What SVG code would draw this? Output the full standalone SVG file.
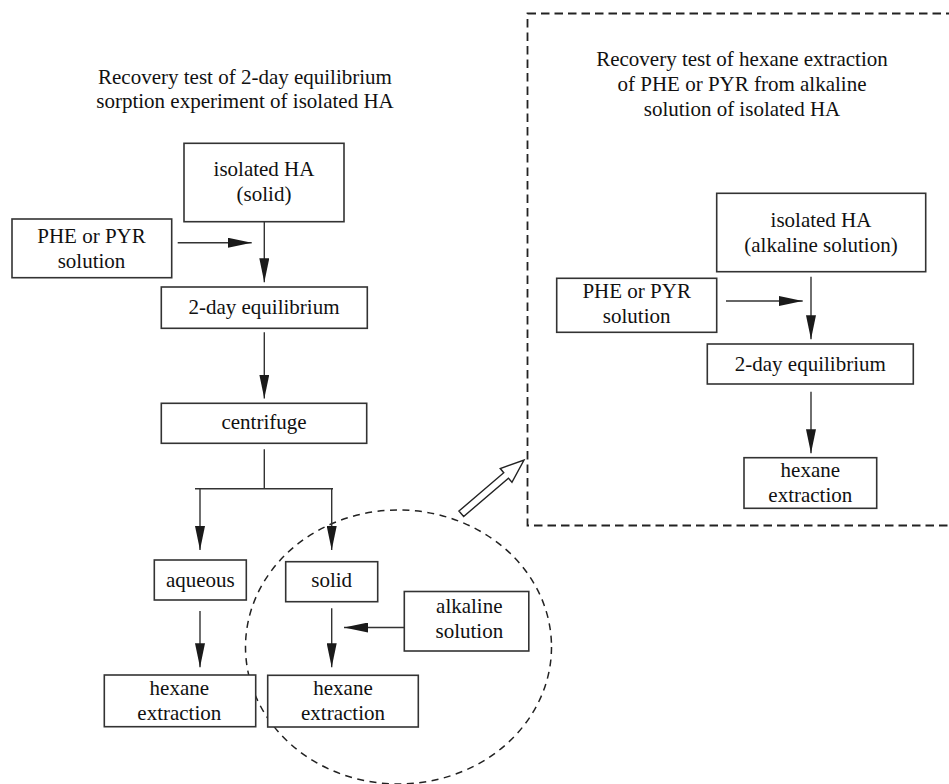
<svg xmlns="http://www.w3.org/2000/svg" width="949" height="784" viewBox="0 0 949 784">
<defs>
<marker id="ah" markerUnits="userSpaceOnUse" markerWidth="24" markerHeight="10" refX="24" refY="5" orient="auto">
<path d="M0,0 L24,5 L0,10 z" fill="#1a1a1a"/>
</marker>
<style>
.box{fill:#fff;stroke:#333;stroke-width:1.6}
.t{font-family:"Liberation Serif","Times New Roman",serif;font-size:21px;fill:#111;text-anchor:middle}
.c{fill:none;stroke:#333;stroke-width:1.4}
.a{fill:none;stroke:#333;stroke-width:1.4;marker-end:url(#ah)}
.d{fill:none;stroke:#222;stroke-width:1.8;stroke-dasharray:8.5 5}
.e{fill:none;stroke:#222;stroke-width:1.5;stroke-dasharray:7 5.5}
</style>
</defs>
<rect width="949" height="784" fill="#fff"/>

<g id="titles">
<text class="t" x="245" y="84">Recovery test of 2-day equilibrium</text>
<text class="t" x="245" y="107.5">sorption experiment of isolated HA</text>
<text class="t" x="742" y="65.5">Recovery test of hexane extraction</text>
<text class="t" x="742" y="90.5">of PHE or PYR from alkaline</text>
<text class="t" x="742" y="115.5">solution of isolated HA</text>
</g>

<g id="frames">
<rect class="d" x="527.5" y="13.5" width="440" height="512"/>
<ellipse class="e" cx="398.5" cy="647" rx="153" ry="137"/>
</g>

<g id="connectors">
<path class="a" d="M177.7,242.7 H251.7"/>
<path class="a" d="M264.3,221.7 V282.3"/>
<path class="a" d="M264.3,332.3 V398.5"/>
<path class="c" d="M264.3,449.3 V488.7 M195,488.7 H333"/>
<path class="a" d="M200,488.7 V550"/>
<path class="a" d="M331.7,488.7 V550"/>
<path class="a" d="M200,611 V667.3"/>
<path class="a" d="M331.7,608.3 V667.3"/>
<path class="a" d="M404.3,627.5 H344"/>
<path class="a" d="M726,301 H802.7"/>
<path class="a" d="M811,276.7 V339.3"/>
<path class="a" d="M811,391.7 V453.3"/>
<polygon transform="translate(461.3,513.8) rotate(-40.6)" points="0,-3.6 59,-3.6 59,-9 82.6,0 59,9 59,3.6 0,3.6" fill="#fff" stroke="#222" stroke-width="1.4" stroke-linejoin="miter"/>
</g>

<g id="n-ha-solid">
<rect class="box" x="184" y="143.3" width="160" height="78.4"/>
<text class="t" x="264" y="176">isolated HA</text>
<text class="t" x="264" y="200.7">(solid)</text>
</g>
<g id="n-phe-left">
<rect class="box" x="12" y="219" width="159.7" height="58.7"/>
<text class="t" x="91.5" y="242.7">PHE or PYR</text>
<text class="t" x="91.5" y="267.7">solution</text>
</g>
<g id="n-equil-left">
<rect class="box" x="161.3" y="287" width="206" height="41.3"/>
<text class="t" x="264" y="314">2-day equilibrium</text>
</g>
<g id="n-centrifuge">
<rect class="box" x="161.3" y="403.3" width="205.4" height="40"/>
<text class="t" x="264" y="429.3">centrifuge</text>
</g>
<g id="n-aqueous">
<rect class="box" x="154.3" y="560" width="92" height="40"/>
<text class="t" x="200.3" y="586.7">aqueous</text>
</g>
<g id="n-solid">
<rect class="box" x="285.7" y="561.7" width="92" height="40"/>
<text class="t" x="331.7" y="587.3">solid</text>
</g>
<g id="n-alkaline">
<rect class="box" x="404.3" y="591.5" width="124.5" height="59.5"/>
<text class="t" x="469.3" y="613.3">alkaline</text>
<text class="t" x="469.3" y="638.3">solution</text>
</g>
<g id="n-hexane-left">
<rect class="box" x="104.3" y="675" width="151.4" height="51.7"/>
<text class="t" x="179.3" y="695">hexane</text>
<text class="t" x="179.3" y="720">extraction</text>
</g>
<g id="n-hexane-mid">
<rect class="box" x="267.7" y="675.3" width="150.6" height="51.7"/>
<text class="t" x="343" y="694.5">hexane</text>
<text class="t" x="343" y="720">extraction</text>
</g>

<g id="n-ha-alk">
<rect class="box" x="716.7" y="193.3" width="209" height="78.4"/>
<text class="t" x="821" y="226.7">isolated HA</text>
<text class="t" x="821" y="251.7">(alkaline solution)</text>
</g>
<g id="n-phe-right">
<rect class="box" x="556.7" y="278.3" width="160" height="54"/>
<text class="t" x="636.7" y="298.3">PHE or PYR</text>
<text class="t" x="636.7" y="323.3">solution</text>
</g>
<g id="n-equil-right">
<rect class="box" x="707.3" y="344" width="206" height="40"/>
<text class="t" x="810.3" y="370.7">2-day equilibrium</text>
</g>
<g id="n-hexane-right">
<rect class="box" x="744" y="457.7" width="132.7" height="50.6"/>
<text class="t" x="810.3" y="476.7">hexane</text>
<text class="t" x="810.3" y="501.7">extraction</text>
</g>
</svg>
